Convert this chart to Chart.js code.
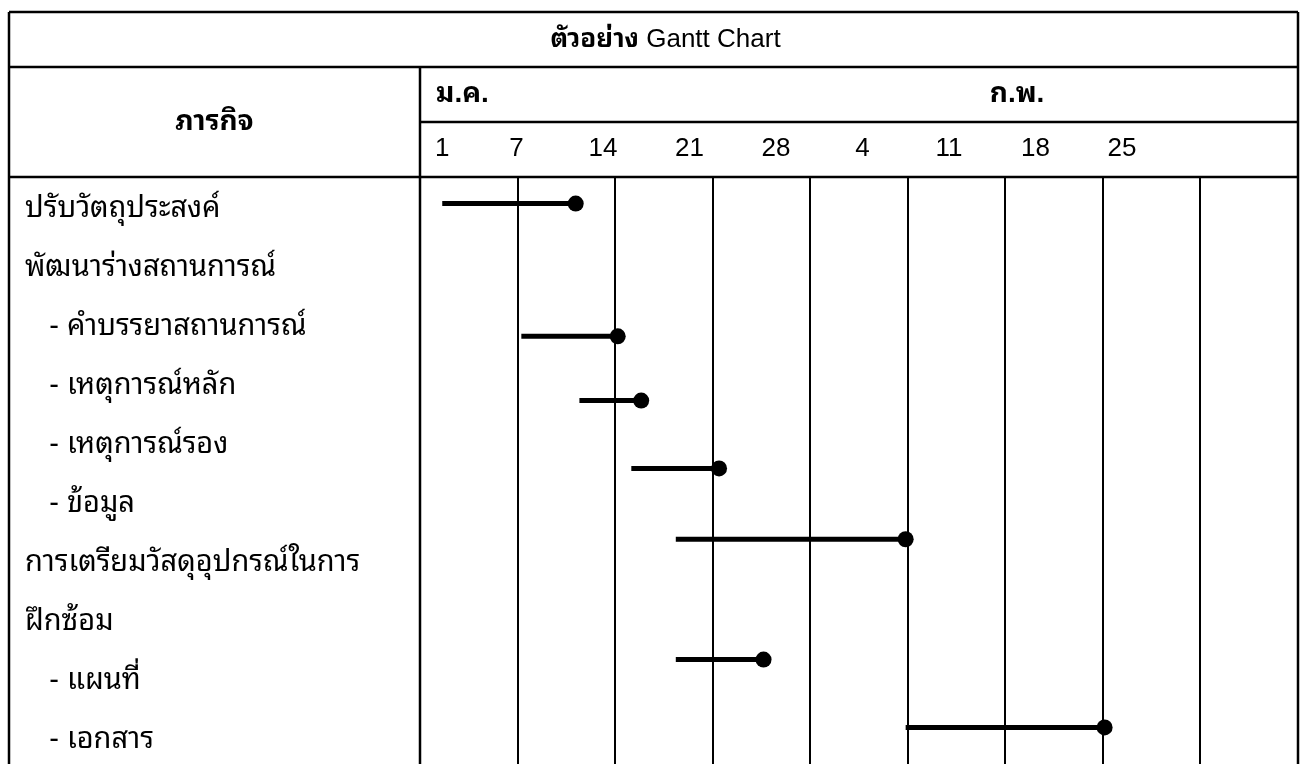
<!DOCTYPE html>
<html>
<head>
<meta charset="utf-8">
<script src="https://cdn.jsdelivr.net/npm/chart.js@4.4.1/dist/chart.umd.min.js"></script>
<style>
  html, body { margin: 0; padding: 0; background: #fff; overflow: hidden; }
  #wrap { width: 1300px; height: 764px; }
  canvas { display: block; }
</style>
</head>
<body>
<div id="wrap"><canvas id="gantt"></canvas></div>
<script>
// chart text
const titleThai = 'ตัวอย่าง';
const titleLatin = 'Gantt Chart';
const taskHeader = 'ภารกิจ';
const monthLabels = ['ม.ค.', 'ก.พ.'];
const monthLabelDays = [0.5, 45.3];

// header days (day 1 = 1 Jan)
const dayTickLabels = ['1', '7', '14', '21', '28', '4', '11', '18', '25'];
const dayTickValues = [1, 7, 14, 21, 28, 35, 42, 49, 56];

// left column rows
const rowLabels = [
  'ปรับวัตถุประสงค์',
  'พัฒนาร่างสถานการณ์',
  '   - คำบรรยาสถานการณ์',
  '   - เหตุการณ์หลัก',
  '   - เหตุการณ์รอง',
  '   - ข้อมูล',
  'การเตรียมวัสดุอุปกรณ์ในการ',
  'ฝึกซ้อม',
  '   - แผนที่',
  '   - เอกสาร'
];

// task lines (row position as drawn, start/end in days)
const taskRows  = [-0.1, 2.15, 3.24, 4.39, 5.59, 7.63, 8.78];
const taskStart = [1, 7.4, 12.1, 16.3, 19.9, 19.9, 38.5];
const taskEnd   = [11.8, 15.2, 17.1, 23.4, 38.5, 27.0, 54.6];

const gridColumns = 9;

const FONT = "'Liberation Sans', 'Noto Sans Thai Looped', 'Noto Sans Thai', Loma, Garuda, sans-serif";

const tableFrame = {
  id: 'tableFrame',
  afterDraw(chart) {
    const { ctx, chartArea: a, scales } = chart;
    const left = 9, top = 12, right = a.right, bottom = chart.height;
    const rowH = (a.top - top) / 3;
    ctx.save();
    ctx.strokeStyle = '#000';
    ctx.lineWidth = 2.5;
    const seg = (x1, y1, x2, y2) => { ctx.beginPath(); ctx.moveTo(x1, y1); ctx.lineTo(x2, y2); ctx.stroke(); };
    seg(left, top, right, top);
    seg(left, top + rowH, right, top + rowH);
    seg(a.left, top + rowH * 2, right, top + rowH * 2);
    seg(left, a.top, right, a.top);
    seg(left, top, left, bottom);
    seg(right, top, right, bottom);
    seg(a.left, top + rowH, a.left, bottom);

    ctx.fillStyle = '#000';
    ctx.textBaseline = 'middle';
    // title, mixed weight
    const boldFont = 'bold 26px ' + FONT;
    const normFont = '26px ' + FONT;
    ctx.font = boldFont;
    const w1 = ctx.measureText(titleThai + ' ').width;
    ctx.font = normFont;
    const w2 = ctx.measureText(titleLatin).width;
    let tx = (left + right) / 2 - (w1 + w2) / 2 + 12;
    ctx.textAlign = 'left';
    ctx.font = boldFont;
    ctx.fillText(titleThai + ' ', tx, top + rowH / 2);
    ctx.font = normFont;
    ctx.fillText(titleLatin, tx + w1, top + rowH / 2);

    // task header
    ctx.font = 'bold 28px ' + FONT;
    ctx.textAlign = 'center';
    ctx.fillText(taskHeader, (left + a.left) / 2, top + rowH * 2);

    // months
    ctx.textAlign = 'left';
    monthLabels.forEach((m, i) => {
      ctx.fillText(m, scales.x.getPixelForValue(monthLabelDays[i]), top + rowH * 1.5);
    });
    ctx.restore();
  }
};

const datasets = taskStart.map((s, i) => ({
  type: 'line',
  data: [{ x: s, y: taskRows[i] }, { x: taskEnd[i], y: taskRows[i] }],
  borderColor: '#000',
  borderWidth: 5,
  borderCapStyle: 'butt',
  pointRadius: [0, 8],
  pointHoverRadius: [0, 8],
  pointBackgroundColor: '#000',
  pointBorderWidth: 0,
  xAxisID: 'x',
  yAxisID: 'y',
  clip: false
}));

new Chart(document.getElementById('gantt'), {
  type: 'line',
  data: { datasets },
  options: {
    responsive: true,
    maintainAspectRatio: false,
    animation: false,
    layout: { autoPadding: false, padding: { left: 25, right: 2, top: 0, bottom: 0 } },
    plugins: { legend: { display: false }, tooltip: { enabled: false } },
    scales: {
      x: {
        type: 'linear',
        position: 'top',
        min: -0.8,
        max: 70.25,
        afterFit: s => { s.height = 177; s.paddingLeft = 0; s.paddingRight = 0; },
        afterBuildTicks: s => { s.ticks = dayTickValues.map(v => ({ value: v })); },
        grid: { display: false, drawTicks: false },
        border: { display: false },
        ticks: {
          autoSkip: false,
          maxRotation: 0,
          padding: 13,
          color: '#000',
          font: { family: FONT, size: 26 },
          callback: (v, i) => dayTickLabels[i]
        }
      },
      xg: {
        type: 'linear',
        position: 'bottom',
        min: 0,
        max: gridColumns,
        afterFit: s => { s.height = 0; s.paddingLeft = 0; s.paddingRight = 0; },
        ticks: { display: false, stepSize: 1 },
        grid: { color: '#000', lineWidth: 2, drawTicks: false },
        border: { display: false }
      },
      y: {
        type: 'linear',
        reverse: true,
        min: -0.55,
        max: 9.4,
        afterFit: s => { s.width = 395; s.paddingTop = 0; s.paddingBottom = 0; },
        afterBuildTicks: s => { s.ticks = rowLabels.map((_, i) => ({ value: i })); },
        grid: { display: false, drawTicks: false },
        border: { display: false },
        ticks: {
          autoSkip: false,
          crossAlign: 'far',
          color: '#000',
          font: { family: FONT, size: 29 },
          callback: (v, i) => rowLabels[i]
        }
      }
    }
  },
  plugins: [tableFrame]
});
</script>
</body>
</html>
